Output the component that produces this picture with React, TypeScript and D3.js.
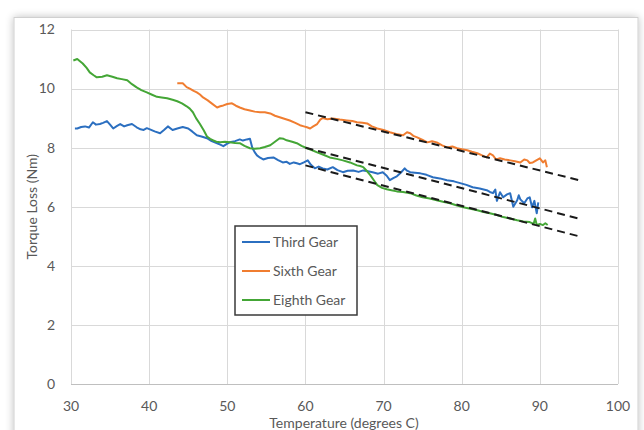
import React, { useRef, useEffect } from 'react';
import * as d3 from 'd3';

// Temperature (deg C) / torque loss (Nm) readings
const thirdTemp = [30.5, 30.8, 31.3, 31.8, 32.3, 32.8, 33.2, 33.7, 34.1, 34.6, 35.0, 35.4, 35.9, 36.3, 36.8, 37.2, 37.8, 38.4, 38.9, 39.3, 39.7, 40.1, 40.7, 41.4, 41.9, 42.4, 43.0, 43.6, 44.3, 45.0, 45.5, 46.1, 46.7, 47.4, 48.0, 48.7, 49.1, 49.5, 49.9, 50.3, 51.0, 51.6, 52.0, 52.5, 52.9, 53.2, 53.5, 53.8, 54.2, 54.6, 55.2, 55.9, 56.5, 57.1, 57.6, 58.0, 58.5, 58.9, 59.3, 59.8, 60.3, 60.7, 61.2, 61.7, 62.2, 62.8, 63.5, 64.1, 64.8, 65.4, 66.1, 66.8, 67.4, 68.0, 68.6, 69.3, 69.9, 70.4, 70.8, 71.3, 71.7, 72.2, 72.7, 73.0, 73.4, 74.0, 74.7, 75.5, 76.3, 77.2, 78.1, 79.0, 79.8, 80.6, 81.4, 82.3, 83.2, 83.6, 84.0, 84.3, 84.5, 84.9, 85.3, 85.8, 86.2, 86.6, 87.1, 87.3, 87.5, 88.0, 88.4, 88.7, 89.0, 89.3, 89.6, 89.8];
const thirdLoss = [8.65, 8.65, 8.7, 8.72, 8.68, 8.86, 8.78, 8.8, 8.84, 8.9, 8.78, 8.65, 8.74, 8.8, 8.72, 8.76, 8.8, 8.69, 8.62, 8.6, 8.66, 8.62, 8.55, 8.49, 8.6, 8.72, 8.6, 8.65, 8.7, 8.65, 8.55, 8.42, 8.38, 8.32, 8.22, 8.15, 8.1, 8.05, 8.12, 8.18, 8.22, 8.28, 8.24, 8.28, 8.3, 8.0, 7.85, 7.74, 7.66, 7.6, 7.65, 7.67, 7.58, 7.5, 7.52, 7.45, 7.5, 7.47, 7.44, 7.5, 7.57, 7.42, 7.3, 7.36, 7.3, 7.26, 7.34, 7.24, 7.17, 7.22, 7.23, 7.18, 7.23, 7.2, 7.17, 7.12, 7.17, 7.05, 6.9, 6.98, 7.03, 7.15, 7.3, 7.22, 7.17, 7.15, 7.13, 7.08, 7.0, 6.96, 6.9, 6.86, 6.8, 6.74, 6.66, 6.62, 6.56, 6.5, 6.46, 6.58, 6.2, 6.49, 6.32, 6.42, 6.46, 6.0, 6.22, 6.39, 6.25, 6.12, 6.28, 6.32, 5.98, 6.2, 5.78, 6.15];

const sixthTemp = [43.6, 44.3, 44.8, 45.2, 45.7, 46.1, 46.5, 46.9, 47.5, 48.0, 48.7, 49.1, 49.5, 50.0, 50.6, 51.1, 51.6, 52.2, 52.9, 53.5, 54.2, 54.8, 55.5, 56.1, 56.7, 57.3, 58.0, 58.7, 59.3, 59.8, 60.2, 60.6, 61.0, 61.5, 61.9, 62.2, 62.8, 63.5, 64.4, 65.3, 66.0, 66.6, 67.3, 67.9, 68.5, 69.2, 70.0, 70.8, 71.6, 72.5, 73.0, 73.4, 73.8, 74.3, 75.0, 75.6, 76.2, 76.8, 77.5, 78.1, 78.8, 79.4, 80.0, 80.7, 81.3, 82.0, 82.6, 83.2, 83.6, 84.0, 84.4, 84.9, 85.5, 86.2, 86.8, 87.5, 88.0, 88.4, 88.7, 89.1, 89.6, 90.0, 90.4, 90.7, 90.9];
const sixthLoss = [10.18, 10.18, 10.05, 10.0, 9.92, 9.87, 9.8, 9.7, 9.6, 9.5, 9.36, 9.4, 9.43, 9.48, 9.5, 9.42, 9.36, 9.3, 9.26, 9.22, 9.2, 9.2, 9.16, 9.08, 9.03, 8.98, 8.92, 8.84, 8.76, 8.72, 8.69, 8.65, 8.72, 8.8, 8.95, 9.0, 8.96, 8.99, 8.95, 8.92, 8.9, 8.86, 8.84, 8.82, 8.72, 8.65, 8.6, 8.52, 8.46, 8.42, 8.52, 8.49, 8.4, 8.35, 8.26, 8.18, 8.22, 8.18, 8.08, 8.01, 8.04, 7.98, 7.95, 7.91, 7.86, 7.81, 7.74, 7.67, 7.8, 7.74, 7.6, 7.64, 7.6, 7.57, 7.54, 7.5, 7.6, 7.57, 7.48, 7.5, 7.58, 7.64, 7.5, 7.57, 7.34];

const eighthTemp = [30.3, 30.8, 31.5, 32.0, 32.4, 32.9, 33.3, 34.0, 34.6, 35.3, 35.9, 36.5, 37.2, 37.8, 38.4, 39.0, 39.7, 40.3, 41.0, 41.6, 42.3, 43.0, 43.6, 44.2, 44.8, 45.2, 45.6, 46.0, 46.5, 47.0, 47.4, 47.8, 48.2, 48.6, 49.1, 49.7, 50.3, 51.0, 51.6, 52.2, 52.9, 53.5, 54.2, 54.8, 55.5, 56.1, 56.7, 57.2, 57.6, 58.3, 58.9, 59.5, 60.2, 60.8, 61.5, 62.3, 63.1, 64.0, 64.8, 65.7, 66.6, 67.0, 67.4, 67.9, 68.3, 68.8, 69.2, 69.8, 70.4, 71.0, 71.7, 72.5, 73.4, 74.2, 75.0, 75.9, 76.8, 77.6, 78.5, 79.3, 80.2, 81.1, 82.0, 82.8, 83.6, 84.5, 85.3, 86.2, 87.1, 87.9, 88.7, 89.2, 89.4, 89.6, 90.0, 90.4, 90.7, 91.0];
const eighthLoss = [10.95, 11.0, 10.85, 10.7, 10.55, 10.45, 10.38, 10.4, 10.45, 10.4, 10.35, 10.32, 10.28, 10.15, 10.04, 9.95, 9.87, 9.8, 9.72, 9.7, 9.67, 9.62, 9.57, 9.5, 9.4, 9.32, 9.2, 9.0, 8.8, 8.58, 8.38, 8.3, 8.25, 8.2, 8.18, 8.2, 8.18, 8.16, 8.15, 8.06, 7.98, 7.96, 7.98, 8.02, 8.08, 8.2, 8.32, 8.3, 8.25, 8.2, 8.15, 8.06, 7.98, 7.92, 7.84, 7.76, 7.67, 7.62, 7.57, 7.5, 7.4, 7.38, 7.34, 7.2, 7.07, 6.88, 6.73, 6.64, 6.59, 6.56, 6.52, 6.5, 6.46, 6.38, 6.32, 6.28, 6.22, 6.17, 6.12, 6.05, 5.98, 5.93, 5.88, 5.82, 5.78, 5.72, 5.65, 5.6, 5.54, 5.5, 5.48, 5.42, 5.6, 5.38, 5.42, 5.38, 5.44, 5.38];

// linear fits drawn as dashed lines, between the two temperatures in fitTemp
const fitTemp = [60, 95];
const fitSixth = [9.2, 6.9];
const fitUpper = [8.0, 5.6];
const fitLower = [7.4, 5.0];

const seriesNames = ['Third Gear', 'Sixth Gear', 'Eighth Gear'];
const seriesColors = ['#2b6fc0', '#f07d30', '#44a636'];
const xTicks = [30, 40, 50, 60, 70, 80, 90, 100];
const yTicks = [0, 2, 4, 6, 8, 10, 12];

const FONT = 'Lato, "Open Sans", sans-serif';
const TXT = '#595959';

export default function App() {
  const svgRef = useRef<SVGSVGElement>(null);

  useEffect(() => {
    const width = 644, height = 430;
    const svg = d3.select(svgRef.current as SVGSVGElement);
    svg.selectAll('*').remove();

    const left = 71, right = 618, top = 29.5, bottom = 384;
    const x = d3.scaleLinear().domain([30, 100]).range([left, right]);
    const y = d3.scaleLinear().domain([0, 12]).range([bottom, top]);

    // outer chart frame with a soft shadow
    const defs = svg.append('defs');
    defs.append('filter').attr('id', 'shadow').attr('x', '-5%').attr('y', '-5%').attr('width', '110%').attr('height', '110%')
      .html('<feGaussianBlur in="SourceAlpha" stdDeviation="4"/><feOffset dx="0" dy="0"/><feComponentTransfer><feFuncA type="linear" slope="0.25"/></feComponentTransfer><feMerge><feMergeNode/><feMergeNode in="SourceGraphic"/></feMerge>');
    svg.append('rect').attr('width', width).attr('height', height).attr('fill', '#ffffff');
    svg.append('rect')
      .attr('x', 14).attr('y', 17.5).attr('width', 624).attr('height', 430)
      .attr('fill', '#fff').attr('stroke', '#d0d0d0').attr('stroke-width', 1)
      .attr('filter', 'url(#shadow)');

    // grid
    svg.append('g').selectAll('line').data(yTicks).join('line')
      .attr('x1', left).attr('x2', right)
      .attr('y1', d => Math.round(y(d)) + 0.5).attr('y2', d => Math.round(y(d)) + 0.5)
      .attr('stroke', d => d === 0 ? '#bfbfbf' : '#d9d9d9').attr('stroke-width', 1);
    svg.append('g').selectAll('line').data(xTicks).join('line')
      .attr('y1', top).attr('y2', bottom)
      .attr('x1', d => Math.round(x(d)) + 0.5).attr('x2', d => Math.round(x(d)) + 0.5)
      .attr('stroke', '#d9d9d9').attr('stroke-width', 1);

    // tick labels
    svg.append('g').selectAll('text').data(yTicks).join('text')
      .attr('x', 55).attr('y', d => y(d)).attr('dy', '0.35em')
      .attr('text-anchor', 'end').attr('font-family', FONT).attr('font-size', 14).attr('fill', TXT)
      .text(d => d);
    svg.append('g').selectAll('text').data(xTicks).join('text')
      .attr('x', d => x(d)).attr('y', 411)
      .attr('text-anchor', 'middle').attr('font-family', FONT).attr('font-size', 14).attr('fill', TXT)
      .text(d => d);

    // axis titles
    svg.append('text').attr('x', 344).attr('y', 428)
      .attr('text-anchor', 'middle').attr('font-family', FONT).attr('font-size', 14).attr('fill', TXT)
      .text('Temperature (degrees C)');
    svg.append('text').attr('transform', `translate(37,${(top + bottom) / 2}) rotate(-90)`)
      .attr('text-anchor', 'middle').attr('font-family', FONT).attr('font-size', 14).attr('fill', TXT)
      .text('Torque Loss (Nm)');

    // data lines
    const line = d3.line<[number, number]>().x(d => x(d[0])).y(d => y(d[1]));
    const series = [
      d3.zip(thirdTemp, thirdLoss),
      d3.zip(sixthTemp, sixthLoss),
      d3.zip(eighthTemp, eighthLoss),
    ] as [number, number][][];
    series.forEach((pts, i) => {
      svg.append('path').datum(pts)
        .attr('fill', 'none').attr('stroke', seriesColors[i]).attr('stroke-width', 2)
        .attr('stroke-linejoin', 'round')
        .attr('d', line);
    });

    // dashed fits
    [fitSixth, fitUpper, fitLower].forEach(f => {
      svg.append('path').datum(d3.zip(fitTemp, f) as [number, number][])
        .attr('fill', 'none').attr('stroke', '#1a1a1a').attr('stroke-width', 2)
        .attr('stroke-dasharray', '8,5')
        .attr('d', line);
    });

    // legend
    const lg = svg.append('g').attr('transform', 'translate(235,226)');
    lg.append('rect').attr('width', 122).attr('height', 89)
      .attr('fill', '#fff').attr('stroke', '#3a3a3a').attr('stroke-width', 1.5);
    seriesNames.forEach((name, i) => {
      const cy = 16 + i * 29;
      lg.append('line').attr('x1', 7).attr('x2', 35).attr('y1', cy).attr('y2', cy)
        .attr('stroke', seriesColors[i]).attr('stroke-width', 2);
      lg.append('text').attr('x', 38).attr('y', cy).attr('dy', '0.35em')
        .attr('font-family', FONT).attr('font-size', 14).attr('fill', TXT)
        .text(name);
    });
  }, []);

  return <svg ref={svgRef} width={644} height={430} style={{ position: 'absolute', left: 0, top: 0 }} />;
}
